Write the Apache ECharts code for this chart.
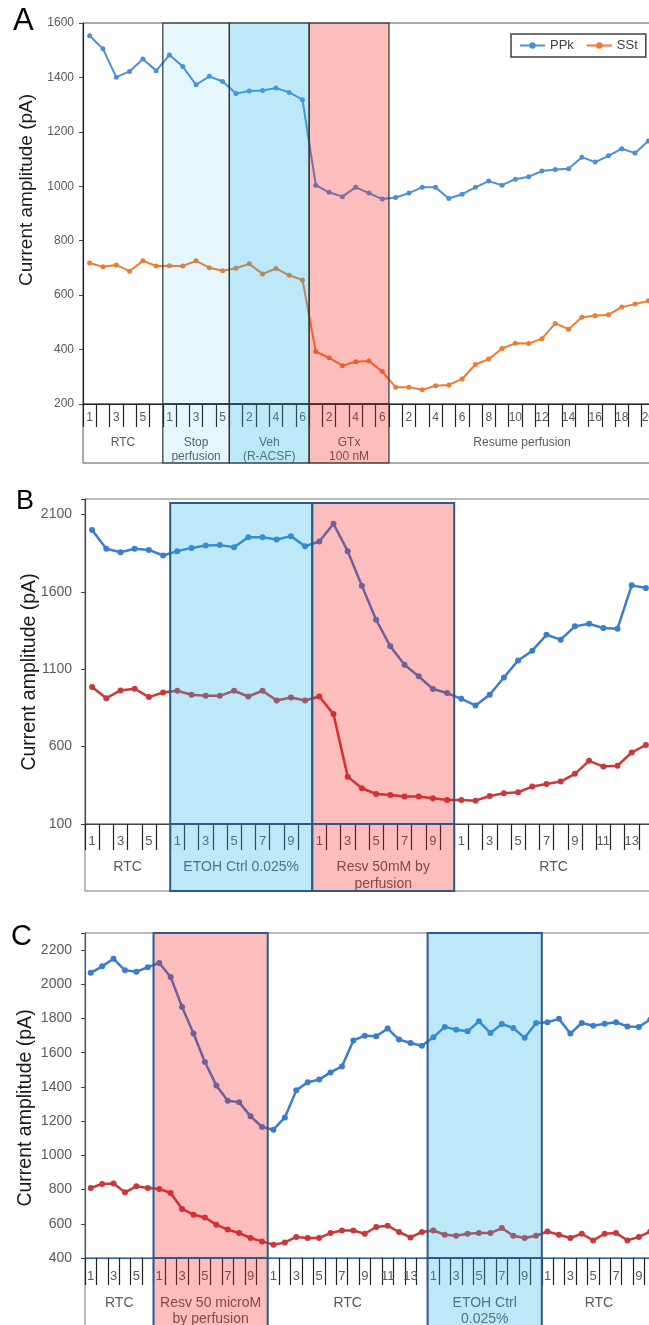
<!DOCTYPE html>
<html><head><meta charset="utf-8">
<script src="https://cdn.jsdelivr.net/npm/echarts@6/dist/echarts.min.js"></script>
<style>html,body{margin:0;padding:0;background:#fff}#c{width:649px;height:1325px}</style>
</head><body><div id="c"></div>
<script>
// ---------- DATA ----------
// Panel A
const groupsA = ['RTC', 'Stop\nperfusion', 'Veh\n(R-ACSF)', 'GTx\n100 nM', 'Resume perfusion'];
const sizesA = [6, 5, 6, 6, 20];
const ppkA = [1553,1505,1401,1422,1468,1425, 1482,1440,1373,1404,1385, 1341,1350,1352,1361,1345,1318,
  1004,978,962,996,975,953,
  959,975,996,996,955,971,996,1019,1004,1026,1035,1056,1062,1064,1107,1089,1112,1138,1122,1166];
const sstA = [718,704,711,688,726,707, 708,707,726,701,690, 699,715,678,698,673,656,
  393,370,341,355,358,319,
  262,262,252,267,270,292,345,365,404,423,422,440,496,475,519,524,528,556,567,579];
const yTicksA = [200, 400, 600, 800, 1000, 1200, 1400, 1600];

// Panel B
const groupsB = ['RTC', 'ETOH Ctrl 0.025%', 'Resv 50mM by\nperfusion', 'RTC'];
const sizesB = [6, 10, 10, 14];
const ppkB = [1999,1878,1856,1878,1871,1835, 1863,1884,1899,1902,1889,1953,1953,1938,1960,1895,
  1925,2040,1863,1640,1420,1248,1129,1054,972,946,
  909,866,935,1047,1157,1220,1323,1291,1377,1394,1366,1362,1642,1625];
const sstB = [985,913,963,974,920,950, 961,935,928,928,961,924,961,898,917,898,
  924,810,406,331,294,288,277,277,266,255,
  255,251,281,299,305,342,359,374,424,508,471,477,562,611];
const yTicksB = [100, 600, 1100, 1600, 2100];

// Panel C
const groupsC = ['RTC', 'Resv 50 microM\nby perfusion', 'RTC', 'ETOH Ctrl\n0.025%', 'RTC'];
const sizesC = [6, 10, 14, 10, 10];
const ppkC = [2067,2105,2149,2082,2074,2100, 2125,2043,1868,1712,1546,1409,1320,1310,1228,1166,
  1150,1222,1380,1427,1443,1485,1520,1672,1700,1696,1741,1677,1657,1641,
  1690,1751,1735,1725,1784,1716,1768,1745,1687,1774,
  1778,1798,1712,1774,1758,1770,1778,1754,1751,1794];
const sstC = [809,833,835,784,819,809, 804,780,687,653,637,595,566,546,517,497,
  478,491,523,517,517,546,561,561,542,581,589,552,520,552,
  561,536,530,542,546,546,575,530,517,530,
  555,536,517,542,503,542,546,503,523,555];
const yTicksC = [400, 600, 800, 1000, 1200, 1400, 1600, 1800, 2000, 2200];

const seriesNames = ['PPk', 'SSt'];
const yTitle = 'Current amplitude (pA)';
const panelLetters = ['A', 'B', 'C'];

// ---------- HELPERS ----------
const FONT = '"Liberation Sans", Arial, Helvetica, sans-serif';
function buildCats(sizes) { const out = []; sizes.forEach(n => { for (let i = 1; i <= n; i++) out.push(String(i)); }); return out; }
function buildSpans(sizes) { const out = []; let s = 0; sizes.forEach((n, i) => { out.push([s, s + n, i]); s += n; }); return out; }
function total(sizes) { return sizes.reduce((a, b) => a + b, 0); }

const BLUE_OV = 'rgba(35,178,228,0.30)';
const LIGHT_OV = 'rgba(38,180,238,0.12)';
const PINK_OV = 'rgba(243,29,29,0.29)';

function overlayRender(fills, stroke, lw, inset) {
  return function (params, api) {
    const gi = api.value(2);
    if (!fills[gi]) return null;
    const cs = params.coordSys;
    const x0 = api.coord([api.value(0), 0])[0];
    const x1 = api.coord([api.value(1), 0])[0];
    return { type: 'rect', shape: { x: x0, y: cs.y + inset, width: x1 - x0, height: cs.height - inset },
      style: { fill: fills[gi], stroke: stroke, lineWidth: lw } };
  };
}
function textRender(groups, fontSize, lineHeight, top, color) {
  return function (params, api) {
    const gi = api.value(2);
    const cs = params.coordSys;
    const x0 = api.coord([api.value(0), 0])[0];
    const x1 = api.coord([api.value(1), 0])[0];
    return { type: 'text', x: (x0 + x1) / 2, y: cs.y + top,
      style: { text: groups[gi], align: 'center', verticalAlign: 'top', fontSize: fontSize, lineHeight: lineHeight,
        fill: color, fontFamily: FONT } };
  };
}

const panels = [
  { groups: groupsA, sizes: sizesA, ppk: ppkA, sst: sstA, ticks: yTicksA, min: 200, max: 1600, interval: 200,
    grid: { left: 83, top: 23, width: 572, height: 381 }, labH: 59,
    axisColor: '#222', boxColor: '#555', yFont: 12, yMargin: 9, xFont: 12, xMargin: 8, tickLen: 23,
    fills: [null, LIGHT_OV, BLUE_OV, PINK_OV, null], stroke: '#333', strokeW: 1.2, inset: 0,
    gFont: 12, gLine: 14.5, gTop: 31,
    colors: ['#4A90D9', '#EE7B30'], lw: 2, sym: 5 },
  { groups: groupsB, sizes: sizesB, ppk: ppkB, sst: sstB, ticks: yTicksB, min: 100, max: 2200, interval: 500,
    grid: { left: 85, top: 499, width: 568, height: 325 }, labH: 67,
    axisColor: '#444', boxColor: '#777', yFont: 14, yMargin: 13, xFont: 13, xMargin: 11, tickLen: 26,
    fills: [null, BLUE_OV, PINK_OV, null], stroke: '#2d5a8c', strokeW: 2, inset: 4,
    gFont: 14, gLine: 17, gTop: 34.5,
    colors: ['#3A7DCC', '#C9383A'], lw: 2.5, sym: 6 },
  { groups: groupsC, sizes: sizesC, ppk: ppkC, sst: sstC, ticks: yTicksC, min: 400, max: 2300, interval: 200,
    grid: { left: 85, top: 933, width: 571, height: 325 }, labH: 80,
    axisColor: '#2f5f98', boxColor: '#777', yFont: 14, yMargin: 13, xFont: 13, xMargin: 12, tickLen: 27,
    fills: [null, PINK_OV, null, BLUE_OV, null], stroke: '#2d5a8c', strokeW: 2, inset: 0,
    gFont: 14, gLine: 16, gTop: 37,
    colors: ['#3A7DCC', '#C9383A'], lw: 2.5, sym: 6 }
];

const grids = [], xAxes = [], yAxes = [], series = [];
panels.forEach((p, pi) => {
  const N = total(p.sizes);
  const cats = buildCats(p.sizes);
  const spans = buildSpans(p.sizes);
  const gMain = grids.length;
  grids.push({ left: p.grid.left, top: p.grid.top, width: p.grid.width, height: p.grid.height,
    show: true, borderColor: p.boxColor, borderWidth: 1, containLabel: false, outerBoundsMode: 'none' });
  const gLab = grids.length;
  grids.push({ left: p.grid.left, top: p.grid.top + p.grid.height, width: p.grid.width, height: p.labH,
    show: true, borderColor: p.boxColor, borderWidth: 1, containLabel: false, outerBoundsMode: 'none' });

  const xCat = xAxes.length;
  xAxes.push({ type: 'category', gridIndex: gMain, data: cats, position: 'bottom', boundaryGap: true,
    axisLine: { show: true, lineStyle: { color: p.axisColor, width: 1.2 } },
    axisTick: { show: true, interval: 0, length: p.tickLen, inside: false, lineStyle: { color: '#222', width: 1.2 } },
    axisLabel: { interval: 1, fontSize: p.xFont, color: '#595959', margin: p.xMargin, fontFamily: FONT },
    splitLine: { show: false } });
  const xVal = xAxes.length;
  xAxes.push({ type: 'value', gridIndex: gMain, min: 0, max: N, show: false, position: 'top' });
  const xLab = xAxes.length;
  xAxes.push({ type: 'value', gridIndex: gLab, min: 0, max: N, show: false });

  const yMain = yAxes.length;
  const tickSet = p.ticks;
  yAxes.push({ type: 'value', gridIndex: gMain, min: p.min, max: p.max, interval: p.interval,
    axisLine: { show: true, lineStyle: { color: p.axisColor, width: 1.2 } },
    axisTick: { show: true, length: 4, lineStyle: { color: '#444' } },
    axisLabel: { fontSize: p.yFont, color: '#595959', margin: p.yMargin, fontFamily: FONT,
      formatter: v => (tickSet.indexOf(v) >= 0 ? String(v) : '') },
    splitLine: { show: false } });
  const yLab = yAxes.length;
  yAxes.push({ type: 'value', gridIndex: gLab, min: 0, max: 1, show: false });

  [p.ppk, p.sst].forEach((d, si) => {
    series.push({ type: 'line', name: pi === 0 ? seriesNames[si] : seriesNames[si] + ' ' + panelLetters[pi],
      xAxisIndex: xCat, yAxisIndex: yMain, data: d, symbol: 'circle', symbolSize: p.sym, showAllSymbol: true,
      lineStyle: { width: p.lw, color: p.colors[si] }, itemStyle: { color: p.colors[si] }, z: 2, silent: true });
  });
  series.push({ type: 'custom', xAxisIndex: xVal, yAxisIndex: yMain, data: spans, z: 3, silent: true,
    renderItem: overlayRender(p.fills, p.stroke, p.strokeW, p.inset) });
  series.push({ type: 'custom', xAxisIndex: xLab, yAxisIndex: yLab, data: spans, z: 1, silent: true,
    renderItem: textRender(p.groups, p.gFont, p.gLine, p.gTop, '#595959') });
  series.push({ type: 'custom', xAxisIndex: xLab, yAxisIndex: yLab, data: spans, z: 3, silent: true,
    renderItem: overlayRender(p.fills, p.stroke, p.strokeW, 0) });
});

const graphics = [
  { type: 'text', left: 13, top: 6, style: { text: panelLetters[0], fontSize: 31, fill: '#000', fontFamily: FONT } },
  { type: 'text', left: 16, top: 488, style: { text: panelLetters[1], fontSize: 27, fill: '#000', fontFamily: FONT } },
  { type: 'text', left: 11, top: 922, style: { text: panelLetters[2], fontSize: 29, fill: '#000', fontFamily: FONT } },
  { type: 'text', x: 26.5, y: 190, rotation: Math.PI / 2,
    style: { text: yTitle, fontSize: 19, fill: '#1a1a1a', align: 'center', verticalAlign: 'middle', fontFamily: FONT } },
  { type: 'text', x: 30, y: 672, rotation: Math.PI / 2,
    style: { text: yTitle, fontSize: 19.5, fill: '#1a1a1a', align: 'center', verticalAlign: 'middle', fontFamily: FONT } },
  { type: 'text', x: 25.5, y: 1108, rotation: Math.PI / 2,
    style: { text: yTitle, fontSize: 19.5, fill: '#1a1a1a', align: 'center', verticalAlign: 'middle', fontFamily: FONT } }
];

const chart = echarts.init(document.getElementById('c'), null, { renderer: 'canvas', width: 649, height: 1325 });
chart.setOption({
  animation: false,
  backgroundColor: '#fff',
  grid: grids, xAxis: xAxes, yAxis: yAxes, series: series,
  legend: { data: seriesNames, left: 511, top: 34, orient: 'horizontal', itemWidth: 25, itemHeight: 8, itemGap: 12,
    padding: [5, 8], borderColor: '#404040', borderWidth: 1.5, backgroundColor: '#fff',
    textStyle: { fontSize: 13, color: '#404040', fontFamily: FONT } },
  graphic: graphics
});
</script></body></html>
